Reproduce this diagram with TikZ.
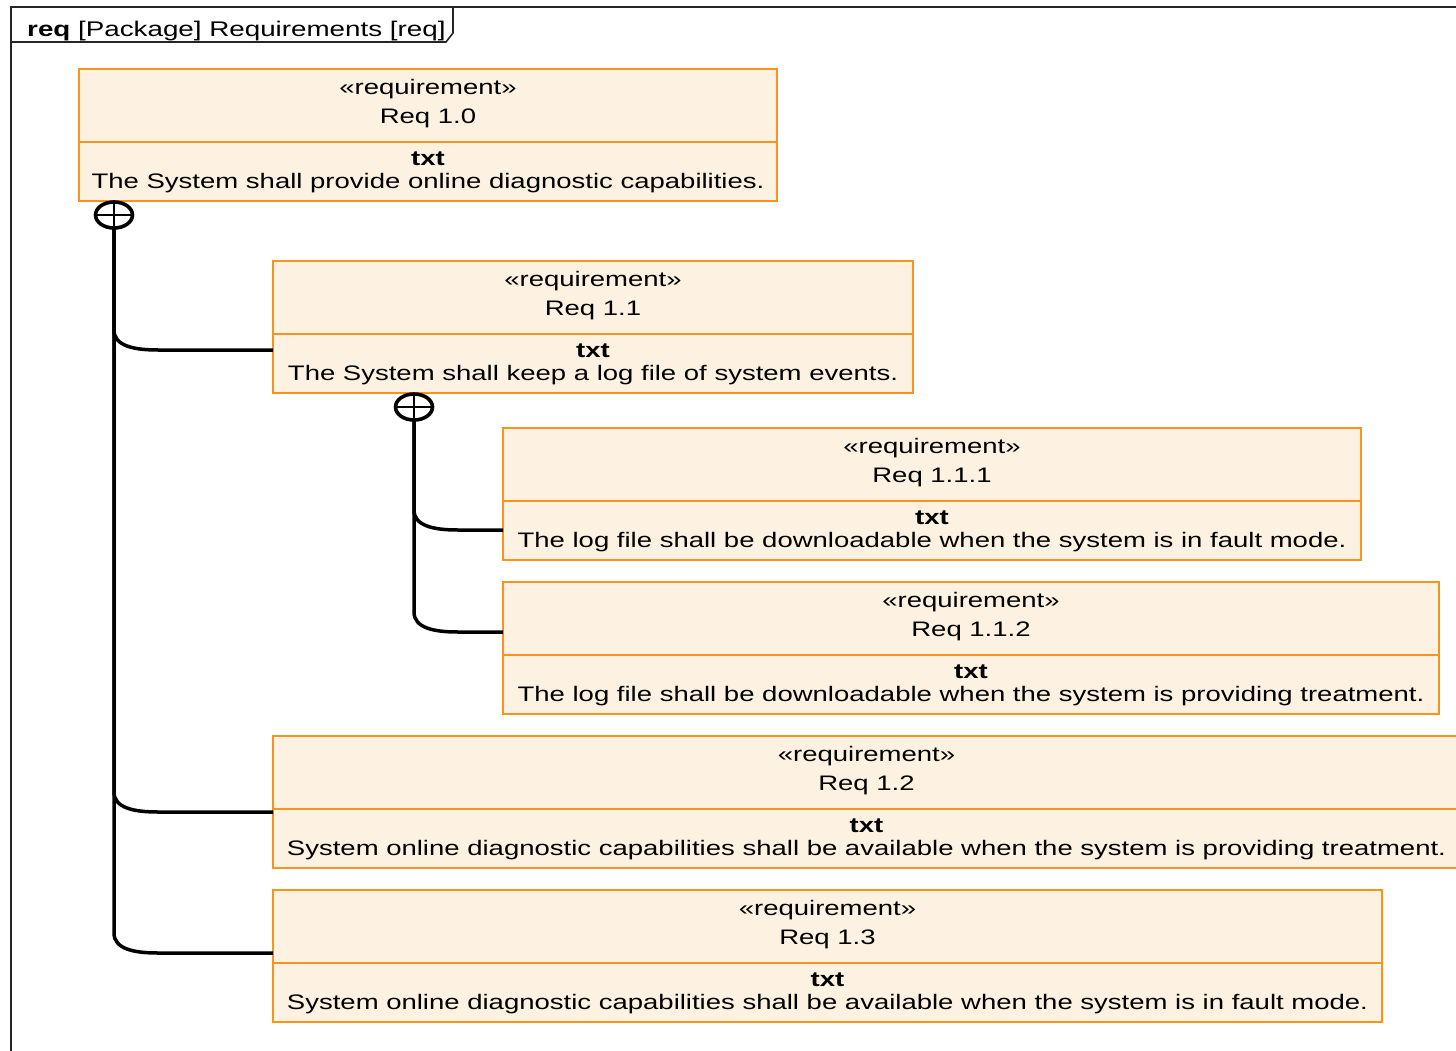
\documentclass[tikz,border=0pt]{standalone}
\usepackage{fontspec}
\setmainfont[FakeStretch=1.31]{Liberation Sans}
\usetikzlibrary{calc,shapes.geometric}
\definecolor{reqfill}{RGB}{253,242,225}
\definecolor{reqedge}{RGB}{247,148,30}
\tikzset{
  reqframe/.style={draw=reqedge, fill=reqfill, line width=2pt, rectangle,
    inner sep=0pt, outer sep=0pt, minimum height=132pt},
  reqrule/.style={draw=reqedge, line width=1.5pt},
  lbl/.style={anchor=base, inner sep=0pt, font=\fontsize{21}{25}\selectfont},
  owner/.style={draw, ellipse, line width=3.6pt, minimum width=37pt,
    minimum height=26pt, inner sep=0pt, outer sep=0pt},
  contain/.style={draw, line width=3.5pt},
  frameline/.style={draw=black!85, line width=1.6pt}
}
% requirement block: name, left x, top y, width, name text, requirement text
\newcommand\reqbox[6]{%
  \node[reqframe, minimum width=#4pt, anchor=north west] (#1) at (#2,#3) {};
  \draw[reqrule] ([yshift=-73pt]#1.north west) -- ([yshift=-73pt]#1.north east);
  \node[lbl] (#1-st) at ([yshift=-25.5pt]#1.north) {«requirement»};
  \node[lbl] (#1-nm) at ([yshift=-54.5pt]#1.north) {#5};
  \node[lbl] (#1-tg) at ([yshift=-96.5pt]#1.north) {\textbf{txt}};
  \node[lbl] (#1-tx) at ([yshift=-119.5pt]#1.north) {#6};
}
% containment line: owner node, branch point on the contained block
\newcommand\containline[2]{%
  \draw[contain] (#1.south) -- ($(#1.south |- #2)+(0,-20)$)
    .. controls +(0,16) and +(-24,0) .. ($(#1.south |- #2)+(44,0)$) -- (#2);
}
\begin{document}
\begin{tikzpicture}[x=1pt,y=-1pt]
  \useasboundingbox (0,0) rectangle (1456,1051);
  \clip (0,0) rectangle (1456,1051);
  \fill[white] (0,0) rectangle (1456,1051);

  % diagram frame and its name tab
  \draw[frameline] (11,1070) -- (11,7) -- (1480,7);
  \draw[frameline] (453,7) -- (453,33) -- (446,42) -- (11,42);
  \node[lbl, anchor=base west, font=\fontsize{21.2}{25}\selectfont] (title) at (27,36.5)
    {\textbf{req} [Package] Requirements [req]};

  % requirement blocks
  \reqbox{r10}{79}{69}{698}{Req 1.0}{The System shall provide online diagnostic capabilities.}
  \reqbox{r11}{273}{261}{640}{Req 1.1}{The System shall keep a log file of system events.}
  \reqbox{r111}{503}{428}{858}{Req 1.1.1}{The log file shall be downloadable when the system is in fault mode.}
  \reqbox{r112}{503}{582}{936}{Req 1.1.2}{The log file shall be downloadable when the system is providing treatment.}
  \reqbox{r12}{273}{736}{1187}{Req 1.2}{System online diagnostic capabilities shall be available when the system is providing treatment.}
  \reqbox{r13}{273}{890}{1109}{Req 1.3}{System online diagnostic capabilities shall be available when the system is in fault mode.}

  % owner ends (circle with cross)
  \node[owner, fill=white] (o1) at (114,215) {};
  \draw[line width=2.4pt] (o1.north) -- (o1.south) (o1.west) -- (o1.east);
  \node[owner, fill=white] (o2) at (414,407) {};
  \draw[line width=2.4pt] (o2.north) -- (o2.south) (o2.west) -- (o2.east);

  % branch points on the contained blocks
  \coordinate (b11)  at ([yshift=-89pt]r11.north west);
  \coordinate (b111) at ([yshift=-102pt]r111.north west);
  \coordinate (b112) at ([yshift=-50pt]r112.north west);
  \coordinate (b12)  at ([yshift=-76pt]r12.north west);
  \coordinate (b13)  at ([yshift=-63pt]r13.north west);

  % containment lines
  \containline{o1}{b13}
  \containline{o1}{b12}
  \containline{o1}{b11}
  \containline{o2}{b112}
  \containline{o2}{b111}
\end{tikzpicture}
\end{document}
